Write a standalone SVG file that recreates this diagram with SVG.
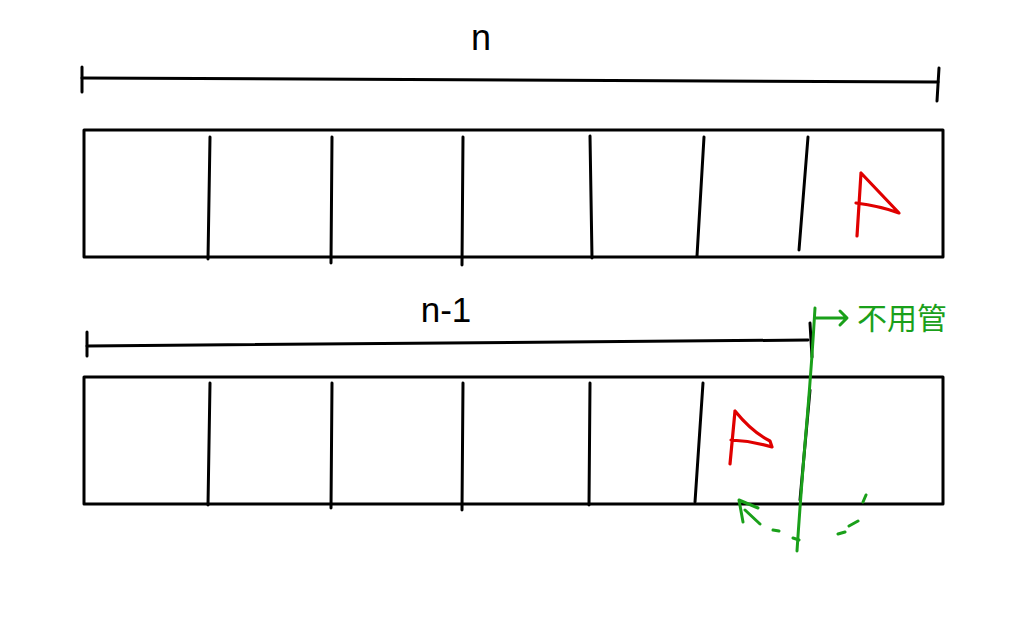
<svg xmlns="http://www.w3.org/2000/svg" width="1024" height="631" viewBox="0 0 1024 631">
<style>
.k{stroke:#000;stroke-width:3;fill:none;stroke-linecap:round;stroke-linejoin:round}
.r{stroke:#e00000;stroke-width:3.2;fill:none;stroke-linecap:round;stroke-linejoin:round}
.g{stroke:#1aa01a;stroke-width:3;fill:none;stroke-linecap:round;stroke-linejoin:round}
.t{font-family:"Liberation Sans","Noto Sans CJK SC",sans-serif;fill:#000}
.tg{font-family:"Noto Sans CJK SC","Noto Sans CJK TC",sans-serif;fill:#1aa01a}
</style>
<rect width="1024" height="631" fill="#fff"/>
<g id="span-n">
<line class="k" x1="82" y1="67" x2="82" y2="92"/>
<path class="k" d="M82 78 L938 82"/>
<line class="k" x1="939" y1="68" x2="937" y2="101"/>
<text class="t" x="481" y="50" font-size="36" text-anchor="middle">n</text>
</g>
<g id="array-top">
<rect class="k" x="84" y="130" width="859" height="127"/>
<path class="k" d="M210 137 L208 259 M332 137 L331 263 M463 137 L462 265 M590 136 L592 258 M704 137 L697 256 M808 137 L799 250"/>
</g>
<g id="flag-top">
<path class="r" d="M861 173 L857 236 M861 173 L899 213 Q880 206 856 203"/>
</g>
<g id="span-n-1">
<line class="k" x1="87" y1="332" x2="87" y2="356"/>
<path class="k" d="M87 346 L808 340"/>
<line class="k" x1="810" y1="323" x2="812" y2="357"/>
<text class="t" x="446" y="322" font-size="35" text-anchor="middle">n-1</text>
</g>
<g id="array-bottom">
<rect class="k" x="84" y="377" width="859" height="127"/>
<path class="k" d="M210 383 L208 505 M332 383 L331 508 M463 383 L462 510 M590 383 L589 505 M703 383 L695 502 M810 390 L800 500"/>
</g>
<g id="flag-bottom">
<path class="r" d="M735 411 L730 464 M735 411 Q752 432 770 441 L772 447 Q752 441 731 440"/>
</g>
<g id="annotation">
<path class="g" d="M815 308 Q812 360 807 420 Q801 490 797 551"/>
<path class="g" d="M816 318 L846 318 M840 311 L847 318 L840 325"/>
<text class="tg" x="857" y="329" font-size="30">不用管</text>
</g>
<g id="connectors">
<path class="g" d="M758 508 L739 500 L743 522 M745 510 L760 524"/>
<path class="g" d="M773 530 L779 531 M793 538 L799 540 M838 534 L845 532 M849 526 L858 521 M863 502 L866 495"/>
</g>
</svg>
